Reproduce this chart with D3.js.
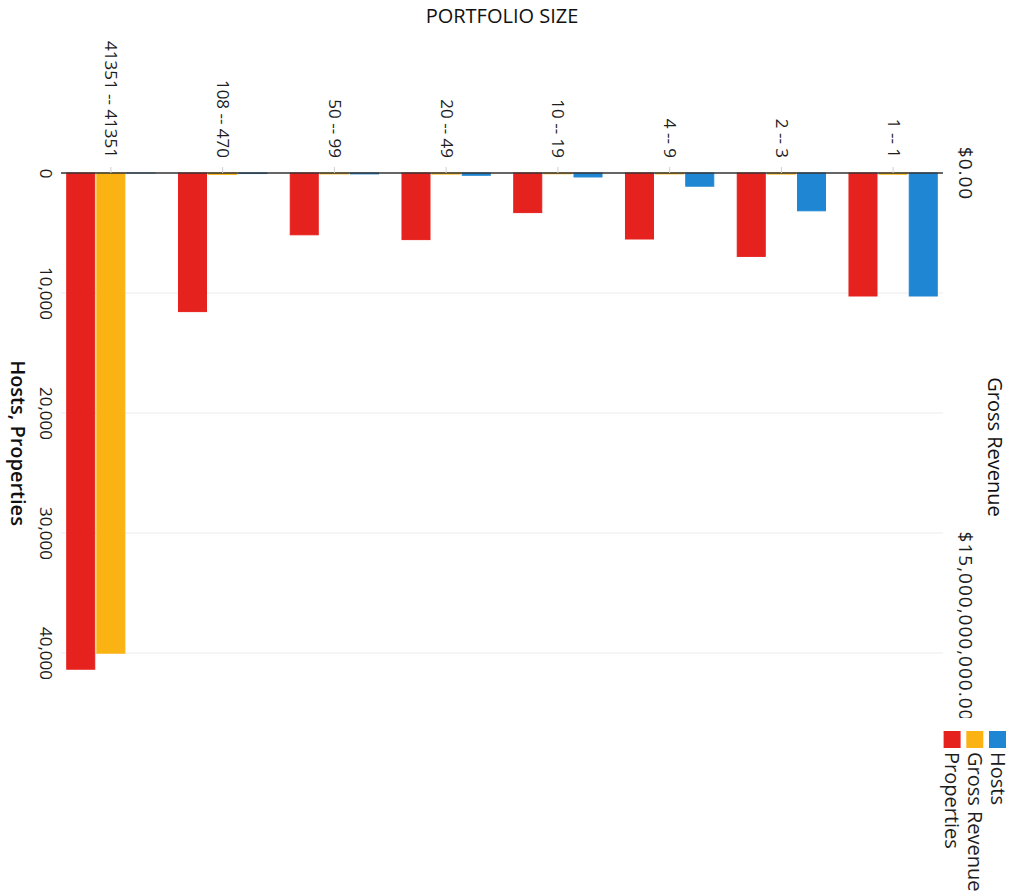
<!DOCTYPE html>
<html>
<head>
<meta charset="utf-8">
<script src="https://cdn.jsdelivr.net/npm/d3@7"></script>
<style>
  html, body { margin: 0; padding: 0; background: #fff; }
  svg { display: block; font-family: "Open Sans", sans-serif; }
</style>
</head>
<body>
<svg id="chart" width="1028" height="896"></svg>
<script>
// Portfolio size buckets, top to bottom in the unrotated layout
const categories = ["1 -- 1", "2 -- 3", "4 -- 9", "10 -- 19", "20 -- 49", "50 -- 99", "108 -- 470", "41351 -- 41351"];
const hosts = [10250, 3150, 1100, 330, 190, 75, 45, 1];
const properties = [10250, 6950, 5500, 3300, 5550, 5150, 11550, 41351];
const grossRevenue = [40e6, 35e6, 30e6, 25e6, 35e6, 30e6, 45e6, 15.9e9];
const hostTicks = [0, 10000, 20000, 30000, 40000];
const revenueTicks = [0, 15e9];
const seriesNames = ["Hosts", "Gross Revenue", "Properties"];
const seriesColors = ["#1f86d3", "#fbb313", "#e6221f"];

const svg = d3.select("#chart");
svg.append("rect").attr("width", 1028).attr("height", 896).attr("fill", "#fff");

// The chart is laid out as a horizontal bar chart and then turned a quarter turn clockwise.
const g = svg.append("g").attr("transform", "translate(1028,0) rotate(90)");

const y = d3.scaleBand().domain(categories).range([79, 973]);
const groupShare = 0.79;
const inner = d3.scaleBand().domain(seriesNames)
  .range([0, y.bandwidth() * groupShare]).paddingInner(0.07);
const groupOffset = y.bandwidth() * (1 - groupShare) / 2;

const x = d3.scaleLinear().domain([0, 40000]).range([173, 653]);
const xr = d3.scaleLinear().domain([0, 15e9]).range([173, 626]);

const plotTop = 85, plotBottom = 967;
const textColor = "#1e1e1e";

// light grid for the host/property axis
g.append("g").selectAll("line").data(hostTicks.slice(1)).join("line")
  .attr("x1", d => x(d)).attr("x2", d => x(d))
  .attr("y1", plotTop).attr("y2", plotBottom)
  .attr("stroke", "#ececec").attr("stroke-width", 1);

// bars
const series = [
  { name: "Hosts", values: hosts, scale: x },
  { name: "Gross Revenue", values: grossRevenue, scale: xr },
  { name: "Properties", values: properties, scale: x }
];
series.forEach((s, si) => {
  g.append("g").selectAll("rect").data(s.values).join("rect")
    .attr("x", x(0))
    .attr("y", (d, i) => y(categories[i]) + groupOffset + inner(s.name))
    .attr("width", d => Math.max(0, s.scale(d) - x(0)))
    .attr("height", inner.bandwidth())
    .attr("fill", seriesColors[si])
    .attr("stroke", seriesColors[si])
    .attr("stroke-width", 1);
});

// zero line
g.append("line")
  .attr("x1", x(0)).attr("x2", x(0))
  .attr("y1", plotTop).attr("y2", plotBottom)
  .attr("stroke", "#333").attr("stroke-width", 1.6);

// category axis
const catAxis = g.append("g").attr("transform", `translate(${x(0)},0)`)
  .call(d3.axisLeft(y).tickSize(6).tickPadding(9));
catAxis.select(".domain").remove();
catAxis.selectAll(".tick line").attr("stroke", "#d0d0d0");
catAxis.selectAll(".tick text").attr("font-size", 17).attr("fill", textColor)
  .attr("font-family", "Open Sans");

// host/property value axis
const hostAxis = g.append("g").attr("transform", "translate(0,973)")
  .call(d3.axisBottom(x).tickValues(hostTicks).tickFormat(d3.format(",")).tickSize(0).tickPadding(3));
hostAxis.select(".domain").remove();
hostAxis.selectAll(".tick text").attr("font-size", 17).attr("fill", textColor)
  .attr("font-family", "Open Sans");

// revenue axis, its long label is cut off at the axis edge
g.append("clipPath").attr("id", "revClip")
  .append("rect").attr("x", 0).attr("y", -80).attr("width", 718).attr("height", 120);
const revAxis = g.append("g").attr("transform", "translate(0,73)")
  .attr("clip-path", "url(#revClip)")
  .call(d3.axisTop(xr).tickValues(revenueTicks)
    .tickFormat(d => "$" + d3.format(",.2f")(d)).tickSize(0).tickPadding(4));
revAxis.select(".domain").remove();
revAxis.selectAll(".tick text").attr("font-size", 19).attr("fill", textColor)
  .attr("letter-spacing", 1).attr("font-family", "Open Sans");

// axis titles
g.append("text")
  .attr("transform", `translate(23,${(y.range()[0] + y.range()[1]) / 2}) rotate(-90)`)
  .attr("text-anchor", "middle").attr("font-size", 20).attr("fill", "#111")
  .text("PORTFOLIO SIZE");

g.append("text")
  .attr("x", 443).attr("y", 1017)
  .attr("text-anchor", "middle").attr("font-size", 20).attr("font-weight", 600).attr("fill", "#111")
  .text("Hosts, Properties");

g.append("text")
  .attr("x", 447).attr("y", 40)
  .attr("text-anchor", "middle").attr("font-size", 20).attr("fill", "#111")
  .text("Gross Revenue");

// legend
const legend = g.append("g").attr("transform", "translate(731,22)");
const item = legend.selectAll("g").data(seriesNames).join("g")
  .attr("transform", (d, i) => `translate(0,${i * 22.7})`);
item.append("rect").attr("width", 17).attr("height", 17)
  .attr("fill", (d, i) => seriesColors[i]);
item.append("text").attr("x", 21).attr("y", 8.5).attr("dy", "0.35em")
  .attr("font-size", 20).attr("fill", textColor).text(d => d);
</script>
</body>
</html>
